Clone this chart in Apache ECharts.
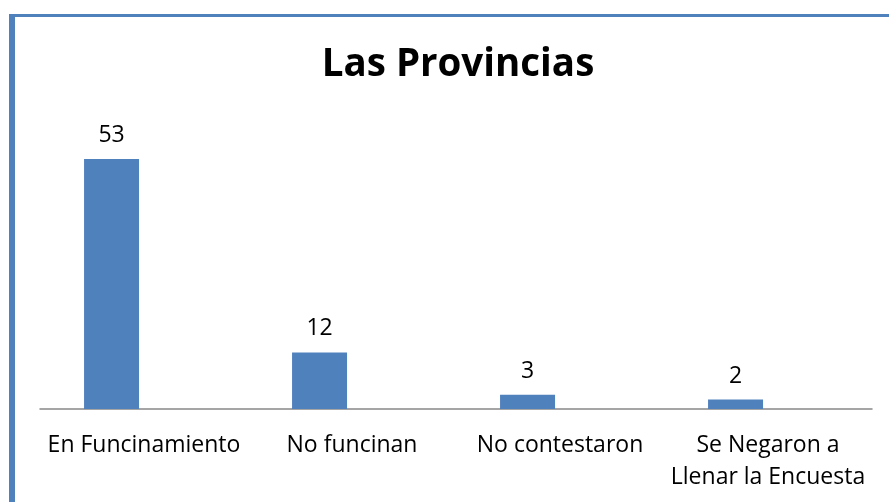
<!DOCTYPE html>
<html lang="es">
<head>
    <meta charset="UTF-8">
    <title>Las Provincias</title>
    <script src="https://cdn.jsdelivr.net/npm/echarts@6/dist/echarts.min.js"></script>
    <style>
        html, body { margin: 0; padding: 0; background: #fff; }
        #main { width: 889px; height: 502px; }
    </style>
</head>
<body>
    <div id="main"></div>
    <script>
        const titleText = "Las Provincias";
        const categories = ["En Funcinamiento", "No funcinan", "No contestaron", "Se Negaron a\nLlenar la Encuesta"];
        const values = [53, 12, 3, 2];

        const font = "'Open Sans', sans-serif";
        const blue = "#4F81BD";

        const chart = echarts.init(document.getElementById("main"));
        chart.setOption({
            animation: false,
            backgroundColor: "#fff",
            title: {
                text: titleText,
                left: 453,
                textAlign: "center",
                top: 41,
                textStyle: { fontFamily: font, fontWeight: "bold", fontSize: 38.5, color: "#000" }
            },
            graphic: [
                // chart frame, only left and top edges visible
                { type: "rect", shape: { x: 9, y: 14, width: 6, height: 488 }, style: { fill: blue } },
                { type: "rect", shape: { x: 9, y: 14, width: 880, height: 3 }, style: { fill: blue } }
            ],
            grid: { left: 40, width: 832, top: 126, height: 283 },
            xAxis: {
                type: "category",
                data: categories,
                axisLine: { lineStyle: { color: "#888", width: 1.5 } },
                axisTick: { show: false },
                axisLabel: {
                    interval: 0,
                    margin: 20,
                    fontFamily: font,
                    fontSize: 23,
                    lineHeight: 32,
                    color: "#000"
                }
            },
            yAxis: { type: "value", min: 0, max: 60, show: false, splitLine: { show: false } },
            series: [
                {
                    type: "bar",
                    data: values,
                    barWidth: 55,
                    barGap: "18%",
                    itemStyle: { color: blue },
                    label: {
                        show: true,
                        position: "top",
                        distance: 12,
                        fontFamily: font,
                        fontSize: 23,
                        color: "#000"
                    }
                },
                { type: "bar", data: [], barWidth: 55 }
            ]
        });
    </script>
</body>
</html>
